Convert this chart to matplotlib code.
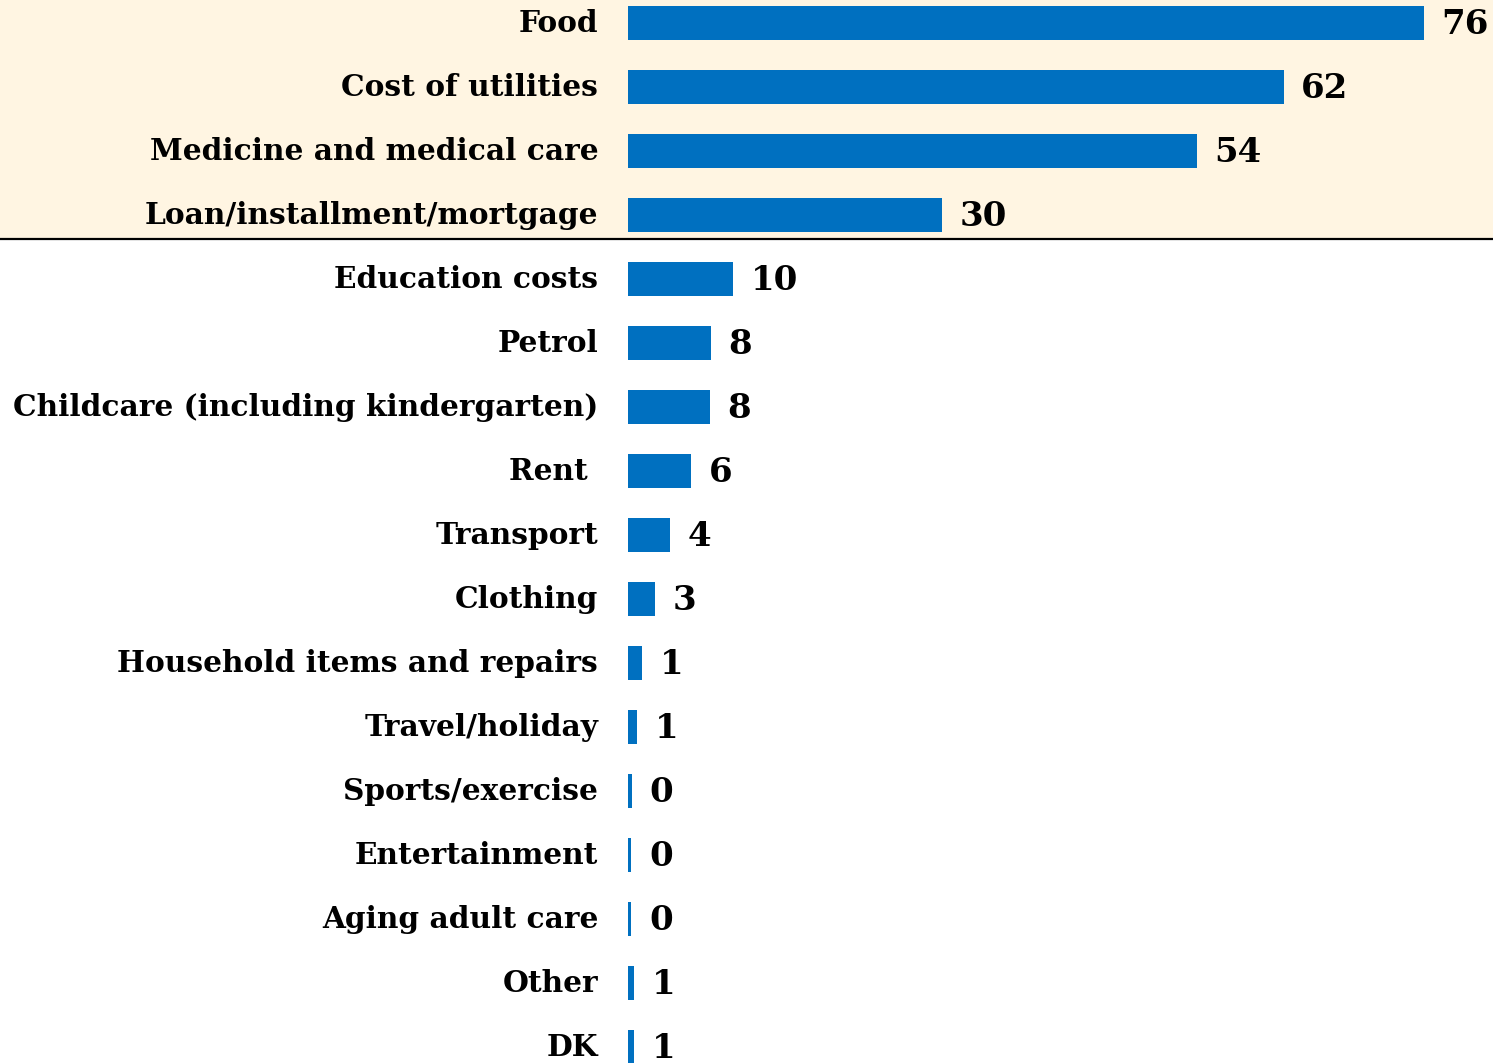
import matplotlib
matplotlib.use("Agg")
import matplotlib.pyplot as plt
from matplotlib.patches import Rectangle
from matplotlib.transforms import blended_transform_factory

# données
categories = ['Food', 'Cost of utilities', 'Medicine and medical care',
              'Loan/installment/mortgage', 'Education costs', 'Petrol',
              'Childcare (including kindergarten)', 'Rent ', 'Transport',
              'Clothing', 'Household items and repairs', 'Travel/holiday',
              'Sports/exercise', 'Entertainment', 'Aging adult care',
              'Other', 'DK']
values = [76.0, 62.6, 54.3, 30.0, 10.0, 7.9, 7.8, 6.0, 4.0, 2.6, 1.3,
          0.9, 0.35, 0.3, 0.3, 0.6, 0.6]
labels = ['76', '62', '54', '30', '10', '8', '8', '6', '4', '3', '1',
          '1', '0', '0', '0', '1', '1']

BAR_COLOR = '#0070C0'
CREAM = '#FFF5E2'
FONT = 'DejaVu Serif'

fig = plt.figure(figsize=(14.93, 10.63), dpi=100)
ax = fig.add_axes([628 / 1493, 0, 1 - 628 / 1493, 1])

y = list(range(len(categories)))
ax.barh(y, values, height=0.53, color=BAR_COLOR)

ax.set_xlim(0, 82.6)
ax.set_ylim(16.25, -0.36)

# zone beige des 4 premières catégories + ligne de séparation
trans = blended_transform_factory(fig.transFigure, ax.transData)
fig.patches.append(Rectangle((0, -1), 1, 4.375, transform=trans,
                             facecolor=CREAM, edgecolor='none', zorder=-10))
ax.plot([0, 1], [3.375, 3.375], transform=trans, color='black',
        linewidth=1.6, clip_on=False)

# étiquettes de catégories
for i, cat in enumerate(categories):
    ax.text(-2.85, i, cat, ha='right', va='center', fontsize=21.3,
            fontweight='bold', family=FONT)

# valeurs
for i, (v, lab) in enumerate(zip(values, labels)):
    ax.text(v + 1.7, i + 0.03, lab, ha='left', va='center', fontsize=24.5,
            fontweight='bold', family=FONT)

ax.axis('off')
ax.patch.set_alpha(0)

fig.savefig('out.png', dpi=100)
